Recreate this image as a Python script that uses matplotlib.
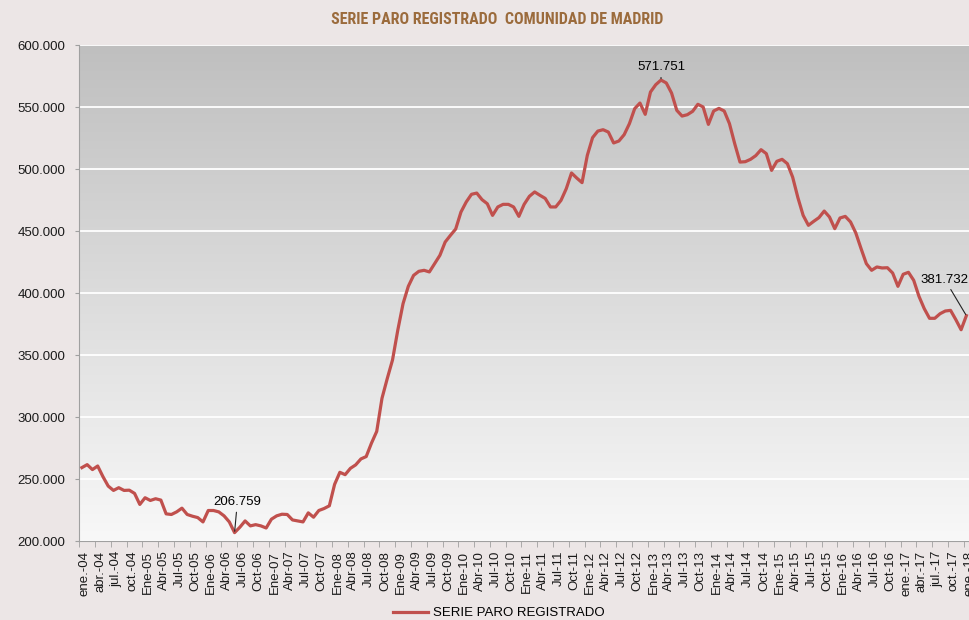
import numpy as np
import matplotlib
matplotlib.use("Agg")
import matplotlib.pyplot as plt
from matplotlib.colors import LinearSegmentedColormap
from matplotlib.ticker import FuncFormatter
from matplotlib.transforms import ScaledTranslation

# --- DATA: paro registrado mensual, ene-04 .. ene-18 ---
paro = [
    259200, 261600, 257600, 260500, 251900, 244300, 240800, 243000, 240800, 241000, 238400, 229500,  # 2004
    234900, 232700, 234100, 233000, 221900, 221400, 223500, 226500, 221400, 220000, 218900, 215400,  # 2005
    224600, 224600, 223500, 220300, 215400, 206759, 211100, 216200, 212200, 213200, 212200, 210500,  # 2006
    217600, 220300, 221600, 221400, 217000, 216200, 215400, 222700, 219200, 224600, 226200, 228400,  # 2007
    245700, 255400, 253500, 258600, 261400, 266200, 268100, 278900, 288400, 315100, 331000, 346000,  # 2008
    370000, 391400, 405400, 414200, 417500, 418300, 417000, 423700, 430400, 441100, 446500, 451600,  # 2009
    465300, 473400, 479600, 480600, 475300, 472000, 462600, 469400, 471500, 471500, 469400, 461800,  # 2010
    471500, 478000, 481500, 478800, 476300, 469400, 469400, 474700, 484100, 496800, 492700, 489000,  # 2011
    511000, 525300, 530600, 531700, 529800, 521000, 522600, 527700, 536600, 548700, 553200, 544100,  # 2012
    562100, 568000, 571751, 569400, 561300, 547300, 542700, 543800, 546500, 552200, 550000, 536000,  # 2013
    546800, 548900, 546800, 536600, 520400, 505600, 505900, 507800, 510800, 515600, 512400, 498900,  # 2014
    506200, 507800, 504300, 493500, 476900, 462600, 454600, 457800, 460800, 466100, 461300, 451900,  # 2015
    460500, 461800, 457300, 448400, 435800, 423700, 418300, 421000, 420200, 420400, 416100, 405400,  # 2016
    415100, 416700, 410200, 397300, 387400, 379600, 379600, 383300, 385500, 386000, 378500, 370400,  # 2017
    381732,                                                                                          # 2018
]

# etiquetas del eje x (una cada 3 meses)
etiquetas = (["ene.-04", "abr.-04", "jul.-04", "oct.-04"]
             + [f"{m}-{a:02d}" for a in range(5, 17) for m in ["Ene", "Abr", "Jul", "Oct"]]
             + ["ene.-17", "abr.-17", "jul.-17", "oct.-17", "ene.-18"])

y_ticks = [200000, 250000, 300000, 350000, 400000, 450000, 500000, 550000, 600000]

titulo = "SERIE PARO REGISTRADO  COMUNIDAD DE MADRID"
serie = "SERIE PARO REGISTRADO"


def miles(v, pos=None):
    return f"{int(v):,}".replace(",", ".")


plt.rcParams["font.family"] = ["Liberation Sans", "DejaVu Sans"]

fig = plt.figure(figsize=(9.69, 6.2), dpi=100, facecolor="#ECE6E6")
ax = fig.add_axes([0.0818, 0.1274, 0.9182, 0.80])

# fondo degradado del area de trazado
grad = LinearSegmentedColormap.from_list("fondo", ["#BFBFBF", "#F8F8F8"])
ax.imshow(np.linspace(0, 1, 256).reshape(-1, 1), cmap=grad, aspect="auto",
          extent=[0, 1, 0, 1], transform=ax.transAxes, zorder=0)

x = np.arange(len(paro))
ax.plot(x, paro, color="#C0504D", lw=2.3, solid_joinstyle="round", label=serie, zorder=3)

ax.set_xlim(-0.5, len(paro) - 0.5)
ax.set_ylim(y_ticks[0], y_ticks[-1])

ax.set_yticks(y_ticks)
ax.yaxis.set_major_formatter(FuncFormatter(miles))
ax.yaxis.grid(True, color="white", lw=1.3)
ax.set_axisbelow(True)

pos = np.arange(0, len(paro), 3)
ax.set_xticks(pos)
ax.set_xticklabels(etiquetas, rotation=90)
ax.set_xticks(pos - 0.5, minor=True)
ax.tick_params(axis="x", which="major", length=0, pad=7, labelsize=9.5, labelcolor="#1a1a1a")
ax.tick_params(axis="x", which="minor", length=4, color="#A0A0A0")
ax.tick_params(axis="y", length=3, color="#A0A0A0", pad=7, labelsize=9.5, labelcolor="#1a1a1a")
desplaza = ScaledTranslation(3 / 100, 0, fig.dpi_scale_trans)
for lbl in ax.get_xticklabels():
    lbl.set_transform(lbl.get_transform() + desplaza)

for s in ["top", "right"]:
    ax.spines[s].set_visible(False)
for s in ["left", "bottom"]:
    ax.spines[s].set_color("#A0A0A0")

# etiquetas de minimo, maximo y ultimo dato
imin = int(np.argmin(paro))
imax = int(np.argmax(paro))
ilast = len(paro) - 1
flecha = dict(arrowstyle="-", color="#222222", lw=0.8, shrinkA=1, shrinkB=1)
ax.annotate(miles(paro[imax]), xy=(imax, paro[imax]), xytext=(0, 7), textcoords="offset points",
            ha="center", va="baseline", fontsize=9.5, arrowprops=flecha, zorder=4)
ax.annotate(miles(paro[imin]), xy=(imin, paro[imin]), xytext=(2, 22), textcoords="offset points",
            ha="center", va="center", fontsize=9.5, arrowprops=flecha, zorder=4)
ax.annotate(miles(paro[ilast]), xy=(ilast, paro[ilast]), xytext=(-15.5, 26), textcoords="offset points",
            ha="center", va="center", fontsize=9.5, arrowprops=flecha, zorder=4)

fig.text(0.513, 1 - 19 / 620, titulo, ha="center", va="center", fontsize=11.5, fontweight="bold",
         color="#9B6B3C",
         family=["Roboto Condensed", "DejaVu Sans Condensed", "Liberation Sans Narrow", "Liberation Sans"])

fig.legend(loc="center", bbox_to_anchor=(0.515, 1 - 613 / 620), frameon=False, fontsize=9.5,
           handlelength=2.6, handletextpad=0.4)

fig.savefig("out.png", dpi=100, facecolor=fig.get_facecolor())
